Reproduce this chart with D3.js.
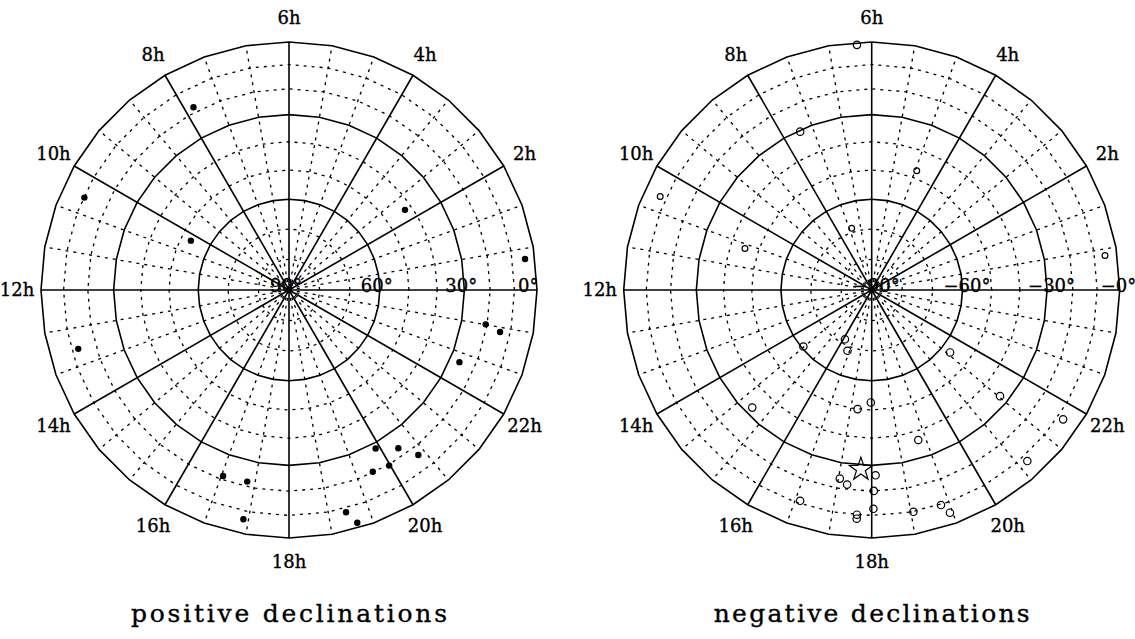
<!DOCTYPE html>
<html><head><meta charset="utf-8">
<script src="https://cdn.jsdelivr.net/npm/d3@7"></script>
<style>body{margin:0;background:#fff}</style>
</head><body>
<svg id="chart" width="1135" height="639"></svg>
<script>
// ---------- data ----------
const hourTicks  = [2,4,6,8,10,12,14,16,18,20,22];
const hourLabels = ["2h","4h","6h","8h","10h","12h","14h","16h","18h","20h","22h"];
const solidDecs  = [0,30,60];
const dottedDecs = [10,20,40,50,70,80];
const decLabelValues = [90,60,30,0];
const posDecLabels = ["90°","60°","30°","0°"];
const negDecLabels = ["\u221290°","\u221260°","\u221230°","\u22120°"];
const panelTitles = ["positive declinations","negative declinations"];

// positive declinations (filled dots): RA [h], Dec [deg]
const posRA  = [7.84,10.38,10.22,2.31,0.50,23.34,23.25,22.47,19.91,20.31,20.54,19.98,19.65,18.96,19.09,16.70,17.18,17.25,13.04];
const posDec = [18.0,10.4,53.5,42.6,4.5,20.6,14.3,26.3,28.0,23.5,16.6,19.6,20.4,8.3,2.5,21.5,22.0,6.4,12.8];

// negative declinations (open circles): RA [h], Dec [deg], size class
const negRA  = [6.23,7.62,10.41,10.79,7.20,4.62,0.56,14.64,16.10,16.55,21.43,14.97,17.55,17.97,17.36,17.52,18.08,18.04,16.75,17.75,17.75,18.03,21.36,21.73,19.15,20.82,18.71,19.19,19.29];
const negDec = [-1.1,-30.6,-7.5,-45.3,-68.7,-47.4,-5.5,-60.7,-71.6,-68.5,-56.8,-32.9,-50.0,-52.6,-23.9,-22.0,-26.2,-20.1,-11.2,-10.1,-8.4,-12.8,-33.3,-7.6,-36.8,-7.5,-9.9,-9.8,-5.4];
const negSize = ["L","L","S","S","S","S","S","L","L","L","L","L","L","L","L","L","L","L","L","L","L","L","L","L","L","L","L","L","L"];
// star marker
const starRA  = [17.77];
const starDec = [-28.4];

// ---------- layout ----------
const R = 248, CY = 290;
const panelCX = [289, 871.7];

const svg = d3.select("#chart");
const rScale = d3.scaleSqrt().domain([0,1]).range([0,R]);           // Lambert equal-area
const rOf = dec => rScale(1 - Math.sin(Math.abs(dec)*Math.PI/180));
const aScale = d3.scaleLinear().domain([0,24]).range([Math.PI/2, Math.PI/2 - 2*Math.PI]);
const pos = (ra,dec) => d3.pointRadial(aScale(ra), rOf(dec));
const ringHours = d3.range(36).map(i => i*24/36);

function drawPanel(idx) {
  const g = svg.append("g").attr("transform", `translate(${panelCX[idx]},${CY})`);
  const ring = dec => d3.lineRadial().angle(h => aScale(h)).radius(rOf(dec)).curve(d3.curveLinearClosed)(ringHours);

  // dotted grid
  const dot = g.append("g").attr("fill","none").attr("stroke","#000").attr("stroke-width",1.3).attr("stroke-dasharray","3,5");
  dottedDecs.forEach(d => dot.append("path").attr("d", ring(d)));
  ringHours.forEach((h,i) => {
    if (i % 3 === 0) return;
    const p = d3.pointRadial(aScale(h), R);
    dot.append("line").attr("x1",0).attr("y1",0).attr("x2",p[0]).attr("y2",p[1]);
  });

  // solid grid
  const sol = g.append("g").attr("fill","none").attr("stroke","#000").attr("stroke-width",1.6);
  solidDecs.forEach(d => sol.append("path").attr("d", ring(d)));
  ringHours.forEach((h,i) => {
    if (i % 3 !== 0) return;
    const p = d3.pointRadial(aScale(h), R);
    sol.append("line").attr("x1",0).attr("y1",0).attr("x2",p[0]).attr("y2",p[1]);
  });

  // data marks
  if (idx === 0) {
    g.append("g").selectAll("circle").data(posRA).join("circle")
      .attr("cx",(d,i)=>pos(d,posDec[i])[0]).attr("cy",(d,i)=>pos(d,posDec[i])[1])
      .attr("r",3.2).attr("fill","#000");
  } else {
    g.append("g").selectAll("circle").data(negRA).join("circle")
      .attr("cx",(d,i)=>pos(d,negDec[i])[0]).attr("cy",(d,i)=>pos(d,negDec[i])[1])
      .attr("r",(d,i)=> negSize[i]==="S" ? 2.9 : 3.7)
      .attr("fill","none").attr("stroke","#000").attr("stroke-width",1.2);
    g.append("g").selectAll("path").data(starRA).join("path")
      .attr("transform",(d,i)=>{const p=pos(d,starDec[i]); return `translate(${p[0]},${p[1]})`;})
      .attr("d", d3.symbol().type(d3.symbolStar).size(165)())
      .attr("fill","none").attr("stroke","#000").attr("stroke-width",1.2);
  }

  const txt = sel => sel.attr("font-family","DejaVu Serif").attr("fill","#000")
    .attr("stroke","#000").attr("stroke-width",0.35);

  // declination labels
  const dl = idx === 0 ? posDecLabels : negDecLabels;
  g.append("g").call(txt).selectAll("text").data(decLabelValues).join("text")
    .attr("x", d => rOf(d) - 19).attr("y", 1.5)
    .attr("font-size",18)
    .attr("text-anchor","start").text((d,i)=>dl[i]);

  // hour labels
  g.append("g").call(txt).selectAll("text").data(hourTicks).join("text")
    .attr("x", d => d3.pointRadial(aScale(d), 272)[0])
    .attr("y", d => d3.pointRadial(aScale(d), 272)[1])
    .attr("dy","0.36em").attr("text-anchor","middle")
    .attr("font-size",18)
    .text((d,i)=>hourLabels[i]);

  // title
  g.append("text").call(txt).attr("x",0).attr("y",332)
    .attr("text-anchor","middle").attr("font-size",25)
    .attr("textLength",316).attr("lengthAdjust","spacing")
    .text(panelTitles[idx]);
}
drawPanel(0);
drawPanel(1);
</script>
</body></html>
